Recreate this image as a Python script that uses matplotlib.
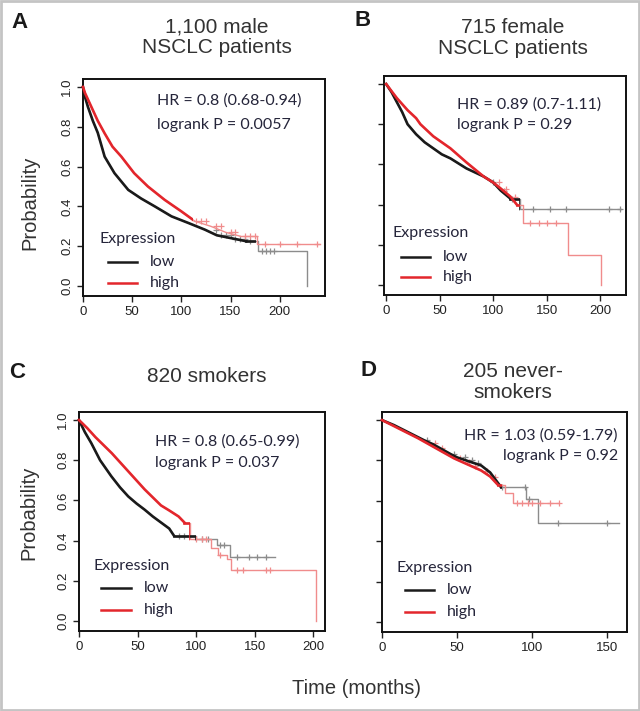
import numpy as np
import matplotlib
matplotlib.use("Agg")
import matplotlib.pyplot as plt
from matplotlib.patches import Rectangle

# Kaplan-Meier data (time in months, survival probability)
a_low_t = [0, 2, 5, 10, 15, 22, 32, 46, 59, 73, 90, 107, 124, 136, 153, 166, 178, 228]
a_low_s = [1.0, 0.95, 0.90, 0.83, 0.77, 0.65, 0.567, 0.483, 0.44, 0.40, 0.35, 0.317, 0.283, 0.255, 0.238, 0.225, 0.175, 0.0]
a_low_cens = [135, 140, 145, 150, 155, 160, 165, 170, 182, 186, 190, 194]
a_high_t = [0, 2, 8.5, 15, 22, 30, 39, 52, 66, 83, 100, 114, 130, 145, 160, 177, 241]
a_high_s = [1.0, 0.97, 0.90, 0.83, 0.767, 0.70, 0.65, 0.567, 0.50, 0.433, 0.375, 0.325, 0.30, 0.27, 0.25, 0.21, 0.21]
a_high_cens = [115, 120, 125, 135, 140, 150, 155, 165, 170, 175, 185, 200, 218, 238]

b_low_t = [0, 5, 10, 15, 20, 28, 36, 44, 52, 60, 75, 91, 100, 107, 116, 125, 219]
b_low_s = [1.0, 0.96, 0.91, 0.86, 0.80, 0.75, 0.71, 0.68, 0.65, 0.63, 0.58, 0.54, 0.51, 0.47, 0.43, 0.38, 0.38]
b_low_cens = [100, 110, 118, 137, 153, 168, 208, 218]
b_high_t = [0, 10, 20, 28, 32, 44, 60, 75, 91, 100, 107, 116, 122, 128, 170, 201]
b_high_s = [1.0, 0.93, 0.87, 0.83, 0.80, 0.74, 0.68, 0.61, 0.54, 0.51, 0.48, 0.44, 0.40, 0.31, 0.15, 0.0]
b_high_cens = [105, 112, 120, 134, 143, 150, 159]

c_low_t = [0, 5, 10.5, 18, 27.6, 35, 42, 49, 56, 63, 70, 77, 81, 100, 118, 129, 167.5]
c_low_s = [1.0, 0.94, 0.885, 0.80, 0.72, 0.665, 0.62, 0.585, 0.554, 0.52, 0.49, 0.46, 0.425, 0.41, 0.38, 0.32, 0.32]
c_low_cens = [85, 90, 105, 110, 120, 124, 135, 145, 152, 160]
c_high_t = [0, 7, 14, 21, 28, 35, 42, 49, 56, 63, 70, 77, 85, 90, 95, 113, 119, 126, 130, 202]
c_high_s = [1.0, 0.96, 0.915, 0.875, 0.835, 0.79, 0.745, 0.70, 0.655, 0.615, 0.575, 0.55, 0.52, 0.49, 0.41, 0.365, 0.33, 0.31, 0.254, 0.0]
c_high_cens = [100, 105, 108, 120, 135, 140, 160, 163]

d_low_t = [0, 8, 16, 24, 28, 34, 40, 46, 50, 56, 62, 66, 72, 79, 96, 104, 158]
d_low_s = [1.0, 0.975, 0.945, 0.915, 0.90, 0.88, 0.855, 0.83, 0.815, 0.80, 0.785, 0.775, 0.74, 0.67, 0.61, 0.49, 0.49]
d_low_cens = [30, 48, 55, 60, 64, 80, 95, 98, 117, 150]
d_high_t = [0, 8, 16, 24, 30, 36, 42, 48, 54, 60, 66, 72, 77, 82, 87, 118]
d_high_s = [1.0, 0.97, 0.94, 0.91, 0.885, 0.86, 0.835, 0.81, 0.79, 0.77, 0.75, 0.72, 0.68, 0.64, 0.59, 0.59]
d_high_cens = [35, 40, 52, 58, 62, 70, 75, 90, 93, 97, 100, 105, 112, 118]

letters = ["A", "B", "C", "D"]
titles = ["1,100 male\nNSCLC patients", "715 female\nNSCLC patients", "820 smokers", "205 never-\nsmokers"]
hr_text = ["HR = 0.8 (0.68-0.94)", "HR = 0.89 (0.7-1.11)", "HR = 0.8 (0.65-0.99)", "HR = 1.03 (0.59-1.79)"]
p_text = ["logrank P = 0.0057", "logrank P = 0.29", "logrank P = 0.037", "logrank P = 0.92"]
x_ticks = [[0, 50, 100, 150, 200], [0, 50, 100, 150, 200], [0, 50, 100, 150, 200], [0, 50, 100, 150]]
y_ticks = [0.0, 0.2, 0.4, 0.6, 0.8, 1.0]

panels = [
    dict(low=(a_low_t, a_low_s, a_low_cens), high=(a_high_t, a_high_s, a_high_cens)),
    dict(low=(b_low_t, b_low_s, b_low_cens), high=(b_high_t, b_high_s, b_high_cens)),
    dict(low=(c_low_t, c_low_s, c_low_cens), high=(c_high_t, c_high_s, c_high_cens)),
    dict(low=(d_low_t, d_low_s, d_low_cens), high=(d_high_t, d_high_s, d_high_cens)),
]

# layout (pixels of a 640x711 canvas, converted below)
W, H = 640, 711
axes_px = [(83, 79, 325, 296), (384, 76, 626, 295), (79, 412, 325, 631), (382, 412, 627, 632)]
xlims = [(0, 246), (-2, 224), (0, 210), (0, 163)]
# (smooth drawing up to, dark colour up to) for low / high
draw_cut = [((176, 176), (165, 112)), ((116, 125), (122, 125)),
            ((81, 100), (90, 95)), ((79, 80), (77, 80))]
letter_xy = [(20, 23), (363, 20), (17, 373), (368, 370)]
title_xy = [(217, 37), (513, 38), (207, 377), (513, 382)]
hr_pos = [(0.306, 0.899, 0.788, "left"), (0.30, 0.868, 0.776, "left"),
          (0.309, 0.863, 0.767, "left"), (0.963, 0.895, 0.80, "right")]
leg_pos = [(0.07, 0.263, 0.157, 0.06), (0.037, 0.283, 0.174, 0.082),
           (0.057, 0.297, 0.196, 0.096), (0.061, 0.29, 0.19, 0.09)]

BLACK, BLACK_PALE = "#1a1a1a", "#8c8c8c"
RED, RED_PALE = "#e3262c", "#f08c8c"
TXT = "#25253a"
SANS = "Liberation Sans"
NOTE = "Lato"


def km(ax, t, s, cens, color, pale, cuts):
    smooth_until, dark_until = cuts
    t = np.asarray(t, float)
    s = np.asarray(s, float)
    k = np.searchsorted(t, smooth_until, side="right")
    clip = Rectangle((-10, -1), dark_until + 10, 3, transform=ax.transData)
    for col, lw, z, clipped in [(pale, 1.0, 2, False), (color, 1.9, 3, True)]:
        arts = ax.plot(t[:k], s[:k], color=col, lw=lw, zorder=z)
        arts += ax.step(t[k - 1:], s[k - 1:], where="post", color=col, lw=lw, zorder=z)
        if clipped:
            for a in arts:
                a.set_clip_path(clip)
    cens = np.asarray(cens, float)
    cs = s[np.searchsorted(t, cens, side="right") - 1]
    ax.plot(cens, cs, ls="none", marker="+", ms=4, mew=0.9, color=pale, zorder=2)


fig = plt.figure(figsize=(W / 100, H / 100), dpi=100)
fig.patches.append(Rectangle((0.001, 0.001), 0.997, 0.997, transform=fig.transFigure,
                             fill=False, ec="#c4c4c4", lw=2))

for i, p in enumerate(panels):
    x0, y0, x1, y1 = axes_px[i]
    ax = fig.add_axes([x0 / W, 1 - y1 / H, (x1 - x0) / W, (y1 - y0) / H])
    for side in ax.spines.values():
        side.set_linewidth(1.4)
        side.set_color("#111111")

    lt, ls_, lc = p["low"]
    ht, hs, hc = p["high"]
    km(ax, lt, ls_, lc, BLACK, BLACK_PALE, draw_cut[i][0])
    km(ax, ht, hs, hc, RED, RED_PALE, draw_cut[i][1])

    ax.set_xlim(*xlims[i])
    ax.set_ylim(-0.05, 1.04)
    ax.set_xticks(x_ticks[i])
    ax.set_yticks(y_ticks)
    ax.set_yticklabels([f"{v:.1f}" for v in y_ticks], rotation=90, va="center")
    ax.tick_params(direction="out", length=4, width=1, labelsize=9.5, pad=3,
                   colors="#222222")
    for lab in ax.get_xticklabels() + ax.get_yticklabels():
        lab.set_family(SANS)
    if i in (1, 3):
        ax.tick_params(axis="y", labelleft=False)

    hx, hy1, hy2, ha = hr_pos[i]
    ax.text(hx, hy1, hr_text[i], transform=ax.transAxes, ha=ha, va="center",
            fontsize=11.5, family=NOTE, color=TXT)
    ax.text(hx, hy2, p_text[i], transform=ax.transAxes, ha=ha, va="center",
            fontsize=11.5, family=NOTE, color=TXT)

    lx, ly_title, ly_low, ly_high = leg_pos[i]
    ax.text(lx, ly_title, "Expression", transform=ax.transAxes, ha="left", va="center",
            fontsize=11.5, family=NOTE, color=TXT)
    for yy, col, name in [(ly_low, BLACK, "low"), (ly_high, RED, "high")]:
        ax.plot([lx + 0.033, lx + 0.153], [yy, yy], transform=ax.transAxes,
                color=col, lw=1.8)
        ax.text(lx + 0.205, yy, name, transform=ax.transAxes, ha="left", va="center",
                fontsize=11.5, family=NOTE, color=TXT)

    fig.text(letter_xy[i][0] / W, 1 - letter_xy[i][1] / H, letters[i], ha="center",
             va="center", fontsize=16, fontweight="bold", family=SANS, color="#1a1a1a")
    fig.text(title_xy[i][0] / W, 1 - title_xy[i][1] / H, titles[i], ha="center",
             va="center", fontsize=15, family=SANS, color="#333333", linespacing=1.1)

fig.text(30 / W, 1 - 203 / H, "Probability", rotation=90, ha="center", va="center",
         fontsize=14.5, family=SANS, color="#333333")
fig.text(29 / W, 1 - 513 / H, "Probability", rotation=90, ha="center", va="center",
         fontsize=14.5, family=SANS, color="#333333")
fig.text(356 / W, 1 - 689 / H, "Time (months)", ha="center", va="center",
         fontsize=14.5, family=SANS, color="#333333")

fig.savefig("out.png", dpi=100)
